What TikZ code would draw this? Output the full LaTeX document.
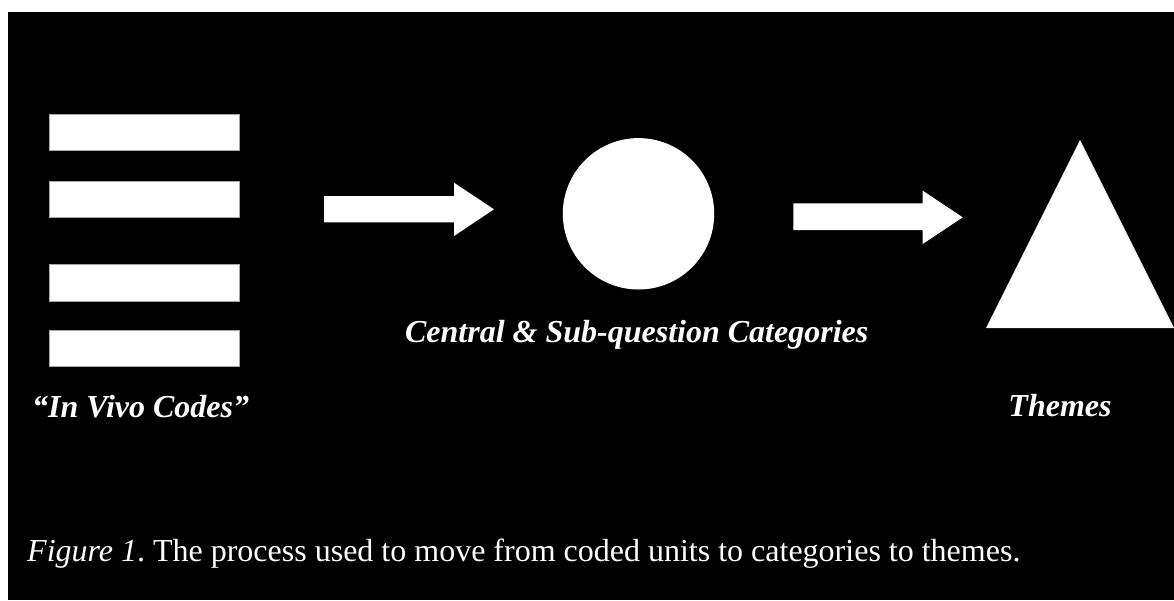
\documentclass[tikz,border=0pt]{standalone}
\usepackage{fontspec}
\setmainfont{Liberation Serif}
\frenchspacing
\begin{document}
\begin{tikzpicture}[x=1pt,y=-1pt,
  codebar/.style={fill=white,draw=gray!70,line width=0.6pt},
  shapefill/.style={fill=white,draw=none},
  lbl/.style={text=white,inner sep=0pt,font=\fontsize{32}{36}\selectfont\bfseries\itshape},
  captext/.style={text=white,inner sep=0pt,font=\fontsize{32}{36}\selectfont}]
\useasboundingbox (0,0) rectangle (1174,600);
\fill[white] (0,0) rectangle (1174,600);
\fill[black] (8,12) rectangle (1174,600);
% in vivo code bars
\draw[codebar] (49.3,114.3) rectangle (239.3,150.7);
\draw[codebar] (49.3,181.3) rectangle (239.3,217.7);
\draw[codebar] (49.3,264.7) rectangle (239.3,301);
\draw[codebar] (49.3,330) rectangle (239.3,366.7);
% arrow 1
\fill[shapefill] (324,196) -- (454,196) -- (454,182.7) -- (494,209.3) -- (454,236) -- (454,222.3) -- (324,222.3) -- cycle;
% circle
\fill[shapefill] (638.5,213.8) circle[radius=75.7];
% arrow 2
\fill[shapefill] (793.3,203.3) -- (922.7,203.3) -- (922.7,190.7) -- (962.7,217.3) -- (922.7,244) -- (922.7,230) -- (793.3,230) -- cycle;
% triangle
\fill[shapefill] (1080,140) -- (1174,328) -- (986,328) -- cycle;
% labels
\node[lbl,anchor=base west] (codes) at (32,417) {``In Vivo Codes''};
\node[lbl,anchor=base] (cats) at (636.7,342) {Central \& Sub-question Categories};
\node[lbl,anchor=base] (themes) at (1060,416) {Themes};
\node[captext,anchor=base west] (caption) at (27,561) {{\itshape Figure 1}. The process used to move from coded units to categories to themes.};
\end{tikzpicture}
\end{document}
